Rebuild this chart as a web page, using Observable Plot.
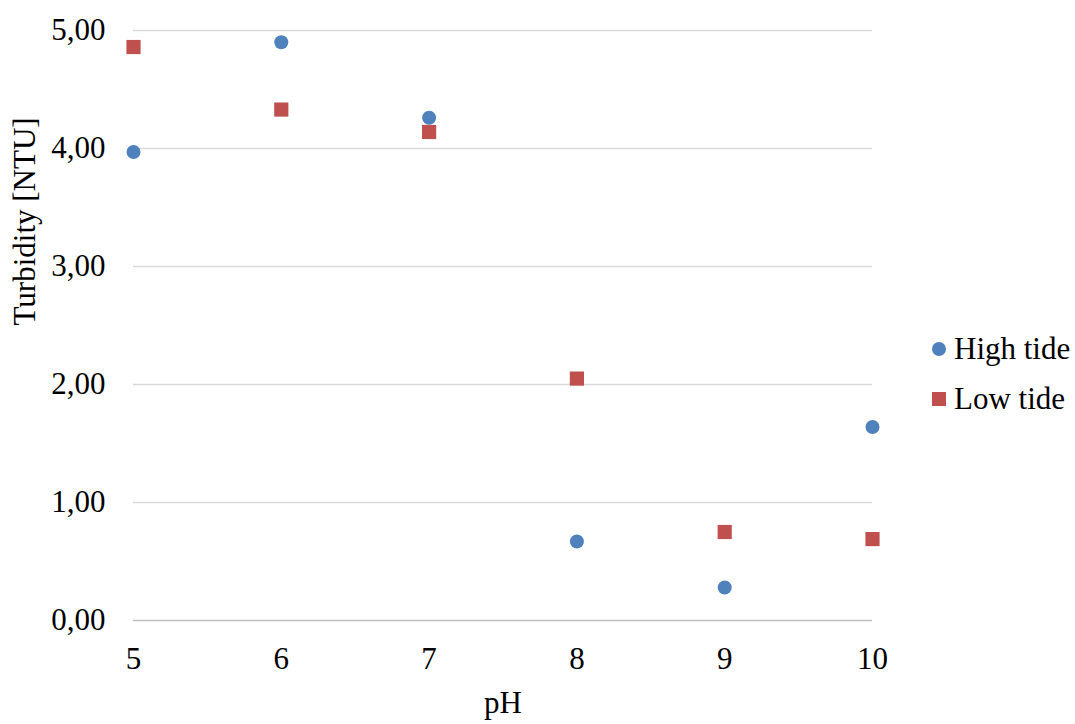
<!DOCTYPE html>
<html><head><meta charset="utf-8">
<script src="https://cdn.jsdelivr.net/npm/d3@7"></script>
<script src="https://cdn.jsdelivr.net/npm/@observablehq/plot@0.6"></script>
<style>
body{margin:0;background:#fff;font-family:"Liberation Serif","Times New Roman",serif;}
#wrap{position:relative;width:1075px;height:724px;}
svg text{font-family:"Liberation Serif","Times New Roman",serif !important;}
.leg{position:absolute;left:932px;font-size:31px;display:flex;align-items:center;white-space:nowrap;}
.sw{display:inline-block;width:14px;height:14px;margin-right:8px;}
</style></head><body>
<div id="wrap"></div>
<script>
const ph = [5,6,7,8,9,10];
const high = [3.97,4.90,4.26,0.67,0.28,1.64];
const low = [4.86,4.33,4.14,2.05,0.75,0.69];
const yTicks = [0,1,2,3,4,5];
const hd = ph.map((x,i)=>({x,y:high[i]}));
const ld = ph.map((x,i)=>({x,y:low[i]}));
const fmt = d=>d.toFixed(2).replace(".",",");
const FF="Liberation Serif";
const FS=31;
const p = Plot.plot({
  width:1075,height:724,
  marginLeft:133,marginRight:203,marginTop:30,marginBottom:104,
  style:{fontFamily:FF,fontSize:FS+"px",color:"#000",overflow:"visible"},
  x:{domain:[5,10],label:null},
  y:{domain:[0,5],label:null},
  marks:[
    Plot.ruleY(yTicks.slice(1),{stroke:"#d9d9d9",strokeWidth:1.3}),
    Plot.ruleY([0],{stroke:"#bfbfbf",strokeWidth:1.3}),
    Plot.dot(hd,{x:"x",y:"y",r:7,fill:"#4F81BD",symbol:"circle"}),
    Plot.dot(ld,{x:"x",y:"y",r:8,fill:"#C0504D",symbol:"square"}),
    Plot.axisX({ticks:ph,tickFormat:d=>String(d),tickSize:0,tickPadding:26,label:null,fontSize:FS,fontFamily:FF}),
    Plot.axisY({ticks:yTicks,tickFormat:fmt,tickSize:0,tickPadding:28,label:null,fontSize:FS,fontFamily:FF}),
    Plot.text(["pH"],{frameAnchor:"bottom",dy:92,fontSize:FS,fontFamily:FF}),
    Plot.text(["Turbidity [NTU]"],{frameAnchor:"left",dx:-108,rotate:-90,fontSize:FS,fontFamily:FF})
  ]
});
const w=document.getElementById("wrap");
w.appendChild(p);
w.insertAdjacentHTML("beforeend",
 '<div class="leg" style="top:331px"><span class="sw" style="background:#4F81BD;border-radius:50%"></span>High tide</div>'+
 '<div class="leg" style="top:381px"><span class="sw" style="background:#C0504D"></span>Low tide</div>');
</script></body></html>
